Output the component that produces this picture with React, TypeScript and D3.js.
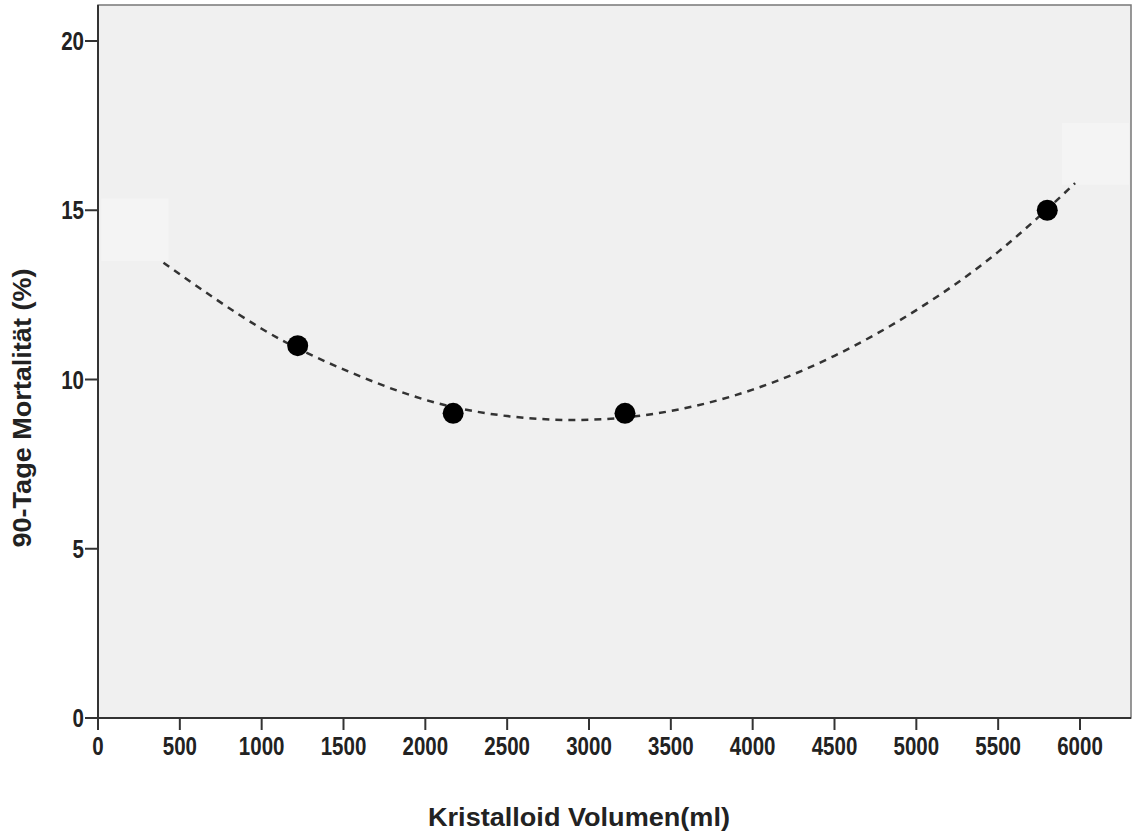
import React from "react";
import * as d3 from "d3";

const xTicks = [0, 500, 1000, 1500, 2000, 2500, 3000, 3500, 4000, 4500, 5000, 5500, 6000];
const yTicks = [0, 5, 10, 15, 20];
const pointX = [1220, 2170, 3220, 5800];
const pointY = [11, 9, 9, 15];
const fitX = [400, 1000, 1500, 2000, 2500, 3000, 3500, 4000, 4500, 5000, 5500, 5970];
const fitY = [13.45, 11.5, 10.3, 9.4, 8.92, 8.81, 9.07, 9.7, 10.7, 12.05, 13.77, 15.8];
// faint masked label patches: [x0, x1, y0, y1] in data units
const patchX0 = [20, 5890];
const patchX1 = [430, 6300];
const patchY0 = [13.5, 15.75];
const patchY1 = [15.35, 17.58];

export default function App() {
  const W = 1133, H = 837;
  const left = 98, right = 1131, top = 5, bottom = 718;
  const x = d3.scaleLinear().domain([0, 6000]).range([left, 1080]);
  const y = d3.scaleLinear().domain([0, 20]).range([bottom, 41]);
  const line = d3.line<number>().x((_, i) => x(fitX[i])).y((_, i) => y(fitY[i])).curve(d3.curveNatural);
  const font = "'Liberation Sans', Arial, sans-serif";
  return (
    <svg width={W} height={H} style={{ position: "absolute", left: 0, top: 0, background: "#fff" }}>
      <rect x={left} y={top} width={right - left} height={bottom - top} fill="#f0f0f0" stroke="#777" strokeWidth={1.5} />
      {patchX0.map((_, i) => (
        <rect key={i} x={x(patchX0[i])} y={y(patchY1[i])} width={Math.min(x(patchX1[i]), right - 1) - x(patchX0[i])}
          height={y(patchY0[i]) - y(patchY1[i])} fill="#f4f4f4" />
      ))}
      <path d={line(fitX) || ""} fill="none" stroke="#333" strokeWidth={2.5} strokeDasharray="7 6" />
      {pointX.map((v, i) => (
        <circle key={i} cx={x(v)} cy={y(pointY[i])} r={10.5} fill="#000" />
      ))}
      <line x1={left} x2={left} y1={top} y2={bottom} stroke="#333" strokeWidth={2} />
      <line x1={left} x2={right} y1={bottom} y2={bottom} stroke="#333" strokeWidth={2} />
      {yTicks.map((t) => (
        <g key={t}>
          <line x1={left - 13} x2={left} y1={y(t)} y2={y(t)} stroke="#333" strokeWidth={2} />
          <text transform={`translate(${left - 14},${y(t) + 9}) scale(0.82,1)`} textAnchor="end" fontFamily={font}
            fontWeight="bold" fontSize={25} fill="#222">{t}</text>
        </g>
      ))}
      {xTicks.map((t) => (
        <g key={t}>
          <line x1={x(t)} x2={x(t)} y1={bottom} y2={bottom + 12} stroke="#333" strokeWidth={2} />
          <text transform={`translate(${x(t)},755) scale(0.82,1)`} textAnchor="middle" fontFamily={font}
            fontWeight="bold" fontSize={25} fill="#222">{t}</text>
        </g>
      ))}
      <text x={579} y={826} textAnchor="middle" fontFamily={font} textLength={302} lengthAdjust="spacingAndGlyphs"
        fontWeight="bold" fontSize={25} fill="#222">Kristalloid Volumen(ml)</text>
      <text transform="translate(31,408) rotate(-90)" textAnchor="middle" textLength={279} lengthAdjust="spacingAndGlyphs"
        fontFamily={font} fontWeight="bold" fontSize={25} fill="#222">
        90-Tage Mortalität (%)
      </text>
    </svg>
  );
}
